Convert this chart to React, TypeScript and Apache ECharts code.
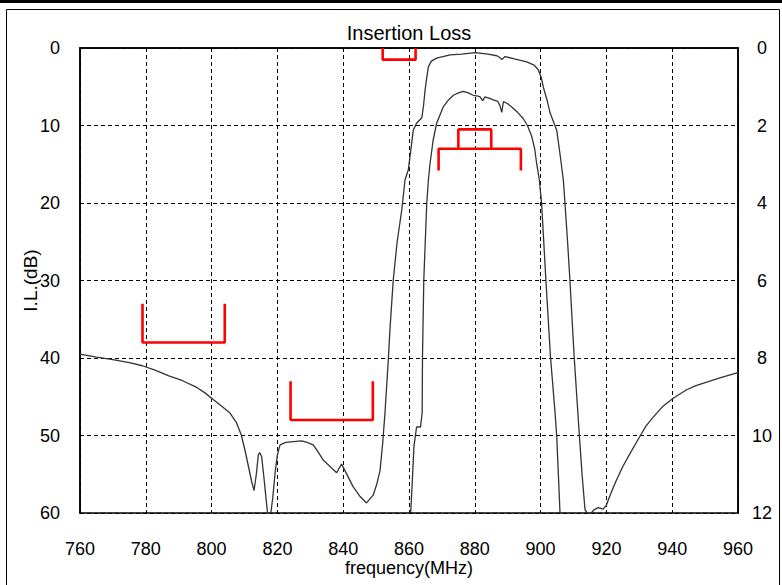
import React, { useEffect, useRef } from "react";
import * as echarts from "echarts";

// frequency ticks (MHz)
const xTicks = [760, 780, 800, 820, 840, 860, 880, 900, 920, 940, 960];

// Wide-band insertion loss (left axis, dB) : [frequency, dB]
const wideFreq = [
  760, 765, 770, 775, 779, 783, 787, 791, 795.5, 798, 800, 803, 805.6, 807.5, 809, 810.2, 811.2, 812.2, 812.9,
  813.6, 814.2, 814.6, 815.2, 815.8, 816.4, 817.0, 818.0, 818.6, 819.3, 820.0, 820.8, 822.5, 824.8, 827.4, 829,
  830.9, 832.5, 834, 836, 838, 838.8, 839.5, 840.5, 843, 845, 847.1, 849.1, 850.2, 851.2, 852.0, 852.7, 853.7,
  854.2, 855.2, 856.4, 857.8, 858.8, 859.8, 861.3, 862.3, 863.9, 864.4, 864.9, 865.4, 865.9, 866.8, 868.4,
  872.5, 876, 880.1, 884, 886.7, 887.5, 888.2, 889.2, 892, 895.8, 898, 899.3, 900.2, 900.8, 902, 902.9, 904.9,
  906, 906.9, 907.4, 908.2, 908.9, 910.2, 911.0, 911.8, 912.6, 913.5, 914.2, 915.4, 916.2, 917.5, 919, 920.0,
  920.6, 921.8, 923.1, 925, 927.2, 930.2, 932, 934.3, 937, 940.3, 944.4, 947, 950.5, 955, 960,
];
const wideLoss = [
  39.5, 39.9, 40.2, 40.6, 41.0, 41.6, 42.3, 42.9, 43.8, 44.5, 45.2, 46.2, 47.1, 48.3, 49.9, 52.0, 54.0, 56.0, 57.1,
  55.0, 52.5, 52.2, 52.7, 55.0, 57.5, 60, 60, 58.0, 54.8, 52.5, 51.2, 50.9, 50.8, 50.7, 50.9,
  51.2, 52.2, 53.2, 54.0, 54.8, 54.2, 53.7, 54.5, 56.6, 57.8, 58.7, 57.7, 56.3, 54.5, 51.0, 47.1, 40.3,
  36.4, 30.0, 25.0, 20.9, 17.0, 15.7, 10.6, 9.7, 9.0, 7.5, 5.4, 3.8, 2.4, 1.7, 1.3,
  0.9, 0.8, 0.6, 0.8, 1.0, 1.2, 1.5, 1.1, 1.4, 1.8, 2.2, 2.8, 3.8, 5.0, 6.8, 8.4, 10.6,
  14.0, 17.0, 20.0, 25.0, 29.9, 39.8, 45.0, 50.1, 55.0, 59.6, 60, 60, 59.6, 59.3, 59.5, 59.0,
  58.3, 57.0, 55.7, 54.0, 52.3, 50.1, 48.8, 47.6, 46.3, 45.2, 44.1, 43.6, 43.1, 42.5, 41.9,
];

// Passband detail (right axis, dB)
const passFreq = [
  860.5, 861.0, 861.5, 862.3, 863.5, 864.0, 864.1, 864.5, 865.4, 865.9, 866.4, 867.3, 868.4, 870.4, 872, 873.5,
  875, 876.5, 878, 879.5, 881.0, 881.6, 882.4, 883.1, 884.5, 885.6, 887, 887.6, 888.2, 888.7, 890, 891.2, 893,
  894.7, 896, 897.3, 898.2, 898.8, 899.6, 900.3, 901.6, 903, 904.4, 904.9, 905.9,
];
const passLoss = [
  12, 11.2, 10.28, 9.78, 9.78, 9.42, 7.96, 5.98, 4.0, 3.4, 2.98, 2.4, 1.94, 1.52, 1.34, 1.22,
  1.16, 1.12, 1.16, 1.22, 1.24, 1.26, 1.36, 1.26, 1.3, 1.34, 1.38, 1.48, 1.66, 1.38, 1.44, 1.52, 1.66,
  1.82, 2.0, 2.28, 2.6, 2.98, 3.4, 4.0, 5.98, 7.96, 9.42, 10.02, 12,
];

// Spec masks (red)
const maskStop1: [number, number][] = [[779, 33], [779, 38], [804, 38], [804, 33]];
const maskStop2: [number, number][] = [[824, 43], [824, 48], [849, 48], [849, 43]];
const maskTop: [number, number][] = [[852, 0], [852, 1.5], [862, 1.5], [862, 0]];
// passband masks on right axis
const maskPassWide: [number, number][] = [[869, 3.16], [869, 2.6], [894, 2.6], [894, 3.16]];
const maskPassNarrow: [number, number][] = [[875, 2.6], [875, 2.1], [885, 2.1], [885, 2.6]];

const FONT = "'Liberation Sans', Arial, sans-serif";

export default function App() {
  const ref = useRef<HTMLDivElement>(null);
  useEffect(() => {
    document.body.style.margin = "0";
    const chart = echarts.init(ref.current!, null, { renderer: "svg" });
    const zip = (xs: number[], ys: number[]) => xs.map((x, i) => [x, ys[i]]);
    const red = (data: [number, number][], yAxisIndex: number) => ({
      type: "line",
      data,
      yAxisIndex,
      symbol: "none",
      z: 5,
      clip: false,
      lineStyle: { color: "#ff0000", width: 2.6 },
    });
    chart.setOption({
      animation: false,
      textStyle: { fontFamily: FONT, color: "#000" },
      graphic: [
        { type: "line", shape: { x1: 0, y1: 1.5, x2: 782, y2: 1.5 }, style: { stroke: "#000", lineWidth: 3 } },
        { type: "rect", shape: { x: 6.5, y: 9.5, width: 773, height: 600 }, style: { fill: "none", stroke: "#000", lineWidth: 1 } },
        {
          type: "text",
          x: 409,
          y: 33,
          style: { text: "Insertion Loss", font: `20px ${FONT}`, fill: "#000", textAlign: "center", textVerticalAlign: "middle" },
        },
      ],
      grid: { left: 80, right: 44, top: 48, bottom: 72, show: true, borderColor: "#000", borderWidth: 1.5 },
      xAxis: {
        type: "value",
        min: 760,
        max: 960,
        interval: 20,
        name: "frequency(MHz)",
        nameLocation: "middle",
        nameGap: 46,
        nameMoveOverlap: false,
        nameTextStyle: { fontSize: 18, color: "#000", fontFamily: FONT },
        axisLine: { show: true, lineStyle: { color: "#000", width: 1.5 } },
        axisTick: { show: false },
        axisLabel: { fontSize: 18, color: "#000", margin: 27, fontFamily: FONT, formatter: (v: number) => (xTicks.includes(v) ? String(v) : "") },
        splitLine: { show: true, lineStyle: { color: "#000", type: [4, 3], width: 1 } },
      },
      yAxis: [
        {
          type: "value",
          min: 0,
          max: 60,
          interval: 10,
          inverse: true,
          name: "I.L.(dB)",
          nameLocation: "middle",
          nameGap: 40,
          nameMoveOverlap: false,
          nameTextStyle: { fontSize: 19, color: "#000", fontFamily: FONT },
          axisLine: { show: true, lineStyle: { color: "#000", width: 1.5 } },
          axisTick: { show: false },
          axisLabel: { fontSize: 18, color: "#000", margin: 20, fontFamily: FONT },
          splitLine: { show: true, lineStyle: { color: "#000", type: [4, 3], width: 1 } },
        },
        {
          type: "value",
          min: 0,
          max: 12,
          interval: 2,
          inverse: true,
          position: "right",
          axisLine: { show: true, lineStyle: { color: "#000", width: 1.5 } },
          axisTick: { show: false },
          axisLabel: { fontSize: 18, color: "#000", margin: 24, align: "center", fontFamily: FONT },
          splitLine: { show: false },
        },
      ],
      series: [
        {
          type: "line",
          data: zip(wideFreq, wideLoss),
          yAxisIndex: 0,
          symbol: "none",
          lineStyle: { color: "#333", width: 1.3 },
          z: 3,
        },
        {
          type: "line",
          data: zip(passFreq, passLoss),
          yAxisIndex: 1,
          symbol: "none",
          lineStyle: { color: "#333", width: 1.3 },
          z: 3,
        },
        red(maskStop1, 0),
        red(maskStop2, 0),
        red(maskTop, 0),
        red(maskPassWide, 1),
        red(maskPassNarrow, 1),
      ],
    });
    return () => chart.dispose();
  }, []);
  return <div ref={ref} style={{ width: 782, height: 585 }} />;
}
